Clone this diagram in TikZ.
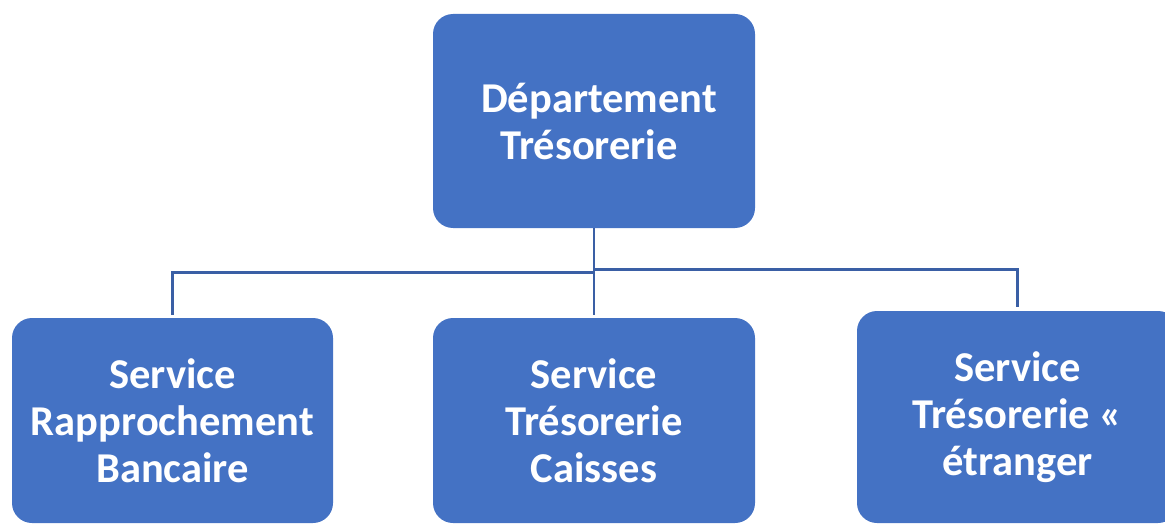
\documentclass[tikz,border=0pt]{standalone}
\usepackage{fontspec}
\setmainfont{Carlito}
\definecolor{boxblue}{HTML}{4472C4}
\definecolor{linkblue}{HTML}{3A5FA5}
\begin{document}
\begin{tikzpicture}[x=1pt,y=-1pt,
  unit/.style={draw=none, fill=boxblue, rounded corners=20pt,
    text=white, align=center, inner sep=0pt,
    font=\fontsize{42.5}{47}\selectfont\bfseries},
  link/.style={draw=linkblue, line width=2.6pt}]
  \useasboundingbox (0,0) rectangle (1165,524);

  % department at the top
  \node[unit, minimum width=322pt, minimum height=214pt] (dept) at (594,121)
    {\hspace*{10pt}Département\\Trésorerie\hspace*{10pt}};

  % the three services
  \node[unit, minimum width=321pt, minimum height=205pt] (rapp) at (172.5,420.5)
    {Service\\Rapprochement\\Bancaire};
  \node[unit, minimum width=322pt, minimum height=205pt] (caisse) at (594,420.5)
    {Service\\Trésorerie\\Caisses};
  \node[unit, minimum width=321pt, minimum height=212pt] (etr) at (1017.5,417)
    {Service\\Trésorerie «\\étranger};

  % links
  \draw[link, shorten >=3pt] (dept.south) -- (caisse.north);
  \draw[link, shorten >=3pt] (dept.south) ++(0,44) -| (rapp.north);
  \draw[link, shorten >=4pt] (dept.south) ++(0,41) -| (etr.north);
\end{tikzpicture}
\end{document}
